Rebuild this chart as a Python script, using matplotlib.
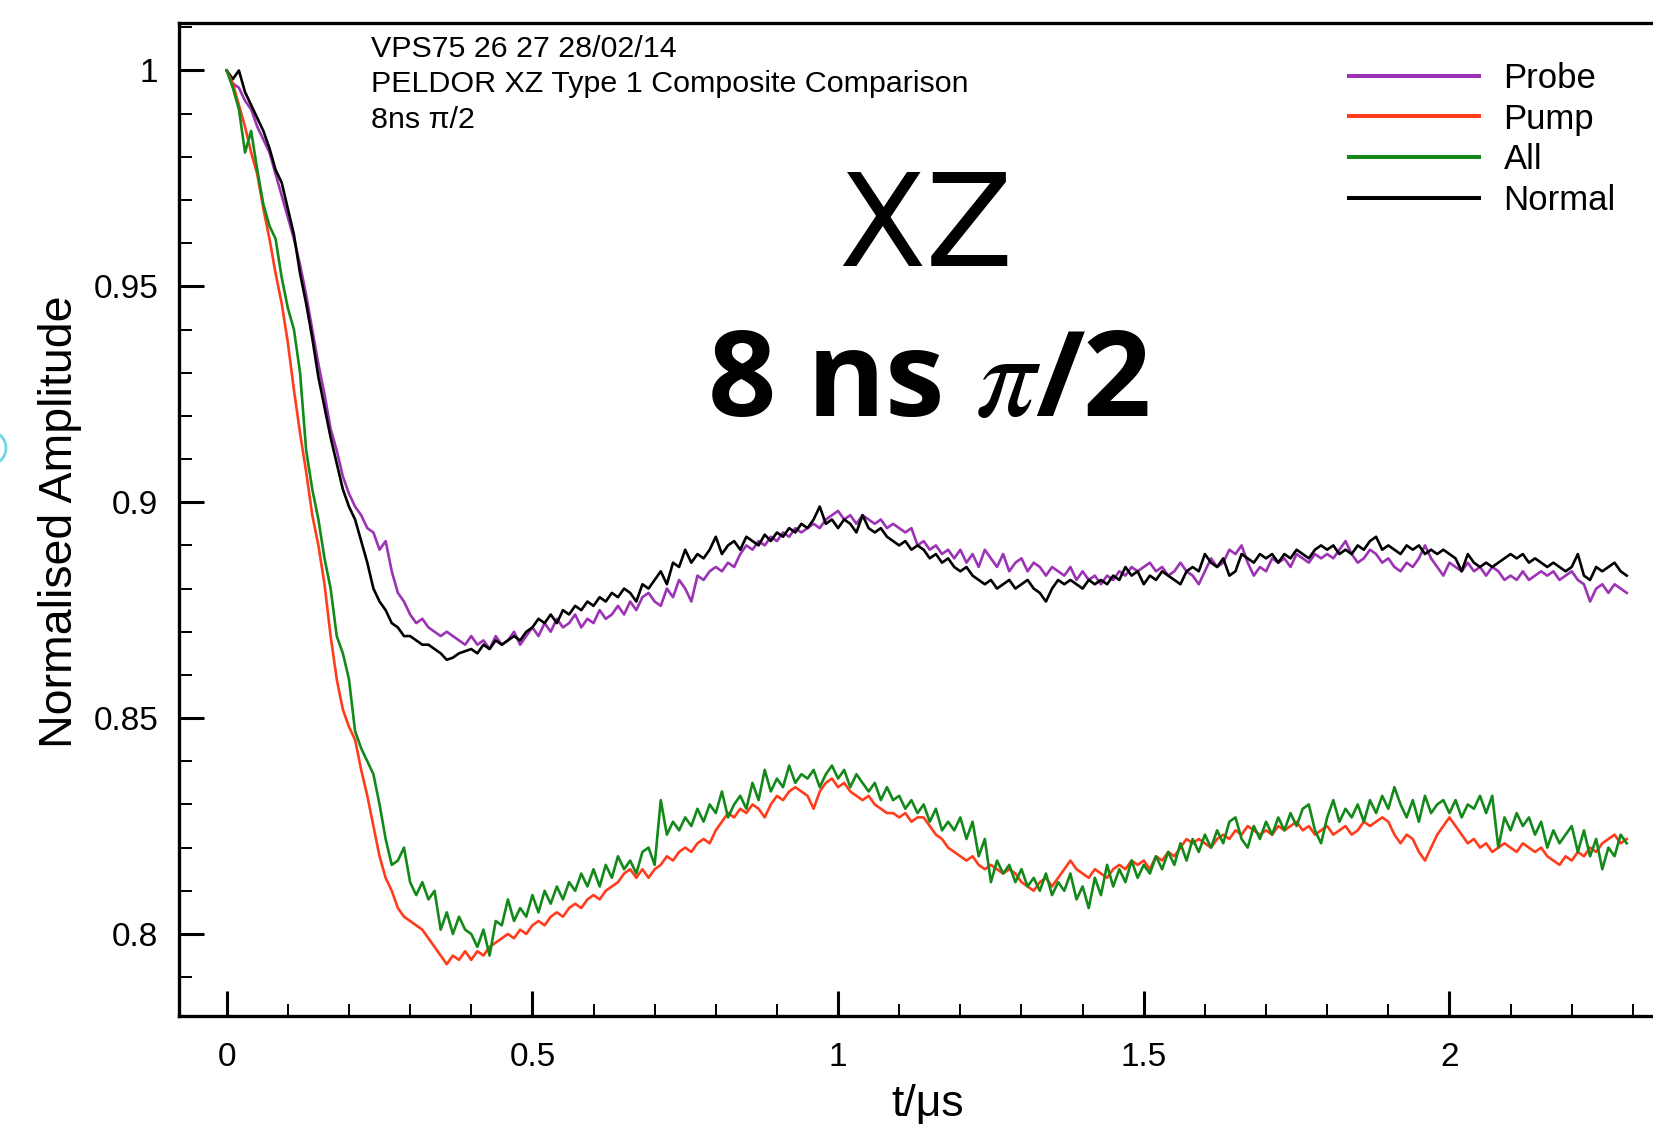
import numpy as np
import matplotlib
matplotlib.use("Agg")
import matplotlib.pyplot as plt
from matplotlib.patches import Ellipse

plt.rcParams['font.family'] = ['Liberation Sans', 'DejaVu Sans']

# time axis, 0.01 us sampling
t = np.round(np.arange(230) * 0.01, 2)

normal = [
    1.000, 0.998, 1.000, 0.995, 0.992, 0.989, 0.986, 0.982, 0.977, 0.974,
    0.968, 0.962, 0.953, 0.946, 0.938, 0.929, 0.922, 0.915, 0.909, 0.903,
    0.899, 0.896, 0.891, 0.886, 0.880, 0.877, 0.875, 0.872, 0.871, 0.869,
    0.869, 0.868, 0.867, 0.867, 0.866, 0.865, 0.8635, 0.864, 0.865, 0.8655,
    0.866, 0.865, 0.867, 0.866, 0.868, 0.867, 0.868, 0.869, 0.868, 0.870,
    0.871, 0.873, 0.872, 0.874, 0.872, 0.875, 0.874, 0.876, 0.875, 0.877,
    0.876, 0.878, 0.877, 0.879, 0.878, 0.880, 0.879, 0.877, 0.881, 0.880,
    0.882, 0.884, 0.881, 0.886, 0.885, 0.889, 0.886, 0.888, 0.887, 0.889,
    0.892, 0.888, 0.890, 0.891, 0.889, 0.892, 0.891, 0.890, 0.8925, 0.891,
    0.893, 0.892, 0.894, 0.893, 0.895, 0.894, 0.896, 0.899, 0.895, 0.896,
    0.894, 0.896, 0.895, 0.893, 0.897, 0.894, 0.893, 0.894, 0.892, 0.891,
    0.890, 0.891, 0.889, 0.890, 0.889, 0.887, 0.888, 0.886, 0.887, 0.885,
    0.884, 0.885, 0.883, 0.882, 0.881, 0.882, 0.880, 0.881, 0.882, 0.880,
    0.881, 0.882, 0.880, 0.879, 0.877, 0.880, 0.882, 0.881, 0.882, 0.881,
    0.880, 0.882, 0.881, 0.882, 0.881, 0.883, 0.882, 0.885, 0.883, 0.884,
    0.881, 0.883, 0.882, 0.884, 0.883, 0.882, 0.881, 0.884, 0.885, 0.884,
    0.888, 0.886, 0.885, 0.887, 0.883, 0.884, 0.888, 0.887, 0.886, 0.888,
    0.887, 0.888, 0.886, 0.888, 0.887, 0.889, 0.888, 0.887, 0.889, 0.890,
    0.889, 0.890, 0.888, 0.889, 0.888, 0.890, 0.889, 0.891, 0.892, 0.889,
    0.890, 0.889, 0.888, 0.890, 0.889, 0.890, 0.888, 0.889, 0.888, 0.889,
    0.888, 0.887, 0.884, 0.888, 0.886, 0.885, 0.886, 0.885, 0.886, 0.887,
    0.888, 0.887, 0.888, 0.886, 0.887, 0.886, 0.885, 0.886, 0.885, 0.884,
    0.885, 0.888, 0.883, 0.882, 0.885, 0.884, 0.885, 0.886, 0.884, 0.883,
]

probe = [
    1.000, 0.997, 0.996, 0.993, 0.991, 0.987, 0.984, 0.981, 0.976, 0.971,
    0.966, 0.961, 0.955, 0.948, 0.940, 0.932, 0.925, 0.917, 0.912, 0.906,
    0.902, 0.899, 0.897, 0.894, 0.893, 0.889, 0.891, 0.884, 0.879, 0.877,
    0.874, 0.872, 0.873, 0.871, 0.870, 0.869, 0.870, 0.869, 0.868, 0.867,
    0.869, 0.867, 0.868, 0.866, 0.869, 0.867, 0.868, 0.870, 0.867, 0.869,
    0.871, 0.869, 0.872, 0.870, 0.873, 0.871, 0.872, 0.874, 0.871, 0.873,
    0.872, 0.875, 0.873, 0.874, 0.876, 0.874, 0.877, 0.875, 0.878, 0.879,
    0.877, 0.876, 0.880, 0.878, 0.882, 0.880, 0.877, 0.883, 0.882, 0.884,
    0.885, 0.884, 0.886, 0.885, 0.888, 0.890, 0.889, 0.891, 0.890, 0.892,
    0.891, 0.893, 0.892, 0.894, 0.893, 0.894, 0.895, 0.894, 0.896, 0.897,
    0.898, 0.896, 0.897, 0.895, 0.897, 0.896, 0.895, 0.896, 0.894, 0.895,
    0.894, 0.893, 0.894, 0.890, 0.891, 0.889, 0.890, 0.888, 0.889, 0.887,
    0.889, 0.886, 0.888, 0.885, 0.889, 0.887, 0.885, 0.888, 0.884, 0.886,
    0.887, 0.884, 0.886, 0.885, 0.883, 0.885, 0.884, 0.883, 0.885, 0.882,
    0.884, 0.882, 0.883, 0.881, 0.883, 0.882, 0.884, 0.883, 0.885, 0.884,
    0.885, 0.886, 0.884, 0.885, 0.883, 0.884, 0.886, 0.884, 0.883, 0.881,
    0.884, 0.887, 0.885, 0.886, 0.889, 0.888, 0.890, 0.886, 0.883, 0.885,
    0.884, 0.887, 0.886, 0.887, 0.885, 0.888, 0.887, 0.886, 0.888, 0.887,
    0.888, 0.887, 0.889, 0.891, 0.888, 0.886, 0.887, 0.889, 0.888, 0.886,
    0.887, 0.885, 0.884, 0.886, 0.885, 0.887, 0.890, 0.887, 0.885, 0.883,
    0.886, 0.885, 0.884, 0.886, 0.884, 0.885, 0.883, 0.885, 0.884, 0.882,
    0.883, 0.882, 0.884, 0.882, 0.883, 0.884, 0.883, 0.884, 0.882, 0.883,
    0.884, 0.882, 0.881, 0.877, 0.880, 0.881, 0.879, 0.881, 0.880, 0.879,
]

pump = [
    1.000, 0.997, 0.992, 0.987, 0.981, 0.976, 0.968, 0.961, 0.953, 0.946,
    0.937, 0.926, 0.916, 0.907, 0.897, 0.890, 0.881, 0.869, 0.859, 0.852,
    0.848, 0.845, 0.838, 0.832, 0.825, 0.818, 0.813, 0.810, 0.806, 0.804,
    0.803, 0.802, 0.801, 0.799, 0.797, 0.795, 0.793, 0.795, 0.794, 0.796,
    0.794, 0.796, 0.795, 0.797, 0.798, 0.799, 0.800, 0.799, 0.801, 0.800,
    0.802, 0.803, 0.802, 0.804, 0.805, 0.804, 0.806, 0.807, 0.806, 0.808,
    0.809, 0.808, 0.810, 0.811, 0.812, 0.814, 0.815, 0.813, 0.815, 0.813,
    0.815, 0.816, 0.818, 0.817, 0.819, 0.820, 0.819, 0.821, 0.822, 0.821,
    0.824, 0.826, 0.828, 0.827, 0.829, 0.828, 0.830, 0.829, 0.827, 0.830,
    0.832, 0.831, 0.833, 0.834, 0.833, 0.832, 0.829, 0.833, 0.835, 0.836,
    0.834, 0.835, 0.833, 0.832, 0.831, 0.832, 0.830, 0.829, 0.828, 0.828,
    0.827, 0.828, 0.826, 0.827, 0.827, 0.825, 0.823, 0.822, 0.820, 0.819,
    0.818, 0.817, 0.818, 0.816, 0.815, 0.816, 0.815, 0.814, 0.815, 0.814,
    0.812, 0.811, 0.810, 0.812, 0.813, 0.811, 0.813, 0.815, 0.817, 0.815,
    0.814, 0.813, 0.815, 0.814, 0.813, 0.815, 0.816, 0.815, 0.817, 0.816,
    0.817, 0.815, 0.818, 0.817, 0.819, 0.818, 0.820, 0.822, 0.821, 0.822,
    0.821, 0.820, 0.822, 0.823, 0.822, 0.824, 0.823, 0.825, 0.824, 0.823,
    0.824, 0.823, 0.825, 0.824, 0.825, 0.826, 0.824, 0.825, 0.823, 0.824,
    0.825, 0.823, 0.824, 0.825, 0.823, 0.824, 0.826, 0.825, 0.826, 0.827,
    0.826, 0.823, 0.821, 0.823, 0.822, 0.819, 0.817, 0.820, 0.823, 0.825,
    0.827, 0.825, 0.823, 0.821, 0.822, 0.820, 0.821, 0.819, 0.820, 0.821,
    0.820, 0.819, 0.821, 0.820, 0.819, 0.820, 0.818, 0.817, 0.816, 0.818,
    0.817, 0.819, 0.818, 0.820, 0.819, 0.821, 0.822, 0.823, 0.821, 0.822,
]

all_ = [
    1.000, 0.996, 0.991, 0.981, 0.986, 0.977, 0.969, 0.964, 0.961, 0.952,
    0.945, 0.940, 0.930, 0.912, 0.903, 0.896, 0.887, 0.880, 0.869, 0.865,
    0.859, 0.847, 0.843, 0.840, 0.837, 0.830, 0.822, 0.816, 0.817, 0.820,
    0.812, 0.809, 0.812, 0.808, 0.810, 0.801, 0.805, 0.800, 0.804, 0.801,
    0.800, 0.797, 0.801, 0.795, 0.803, 0.802, 0.808, 0.803, 0.806, 0.804,
    0.809, 0.805, 0.810, 0.807, 0.811, 0.808, 0.812, 0.810, 0.814, 0.811,
    0.815, 0.811, 0.816, 0.813, 0.818, 0.815, 0.817, 0.814, 0.819, 0.820,
    0.816, 0.831, 0.823, 0.826, 0.824, 0.827, 0.825, 0.829, 0.826, 0.830,
    0.828, 0.833, 0.827, 0.830, 0.832, 0.829, 0.835, 0.831, 0.838, 0.833,
    0.836, 0.834, 0.839, 0.835, 0.837, 0.836, 0.838, 0.834, 0.837, 0.839,
    0.836, 0.838, 0.834, 0.837, 0.835, 0.833, 0.835, 0.831, 0.834, 0.831,
    0.832, 0.829, 0.831, 0.828, 0.830, 0.826, 0.829, 0.824, 0.826, 0.824,
    0.827, 0.822, 0.826, 0.818, 0.822, 0.812, 0.817, 0.814, 0.816, 0.812,
    0.815, 0.811, 0.813, 0.810, 0.814, 0.809, 0.812, 0.810, 0.814, 0.808,
    0.811, 0.806, 0.813, 0.809, 0.816, 0.811, 0.815, 0.812, 0.817, 0.813,
    0.816, 0.814, 0.818, 0.815, 0.819, 0.816, 0.821, 0.817, 0.822, 0.819,
    0.823, 0.820, 0.824, 0.821, 0.826, 0.827, 0.822, 0.820, 0.825, 0.822,
    0.826, 0.823, 0.827, 0.824, 0.828, 0.825, 0.829, 0.830, 0.824, 0.821,
    0.827, 0.831, 0.826, 0.829, 0.827, 0.830, 0.826, 0.831, 0.828, 0.832,
    0.829, 0.834, 0.830, 0.827, 0.831, 0.826, 0.832, 0.828, 0.830, 0.831,
    0.828, 0.831, 0.827, 0.830, 0.829, 0.832, 0.828, 0.832, 0.820, 0.827,
    0.824, 0.828, 0.825, 0.827, 0.823, 0.826, 0.820, 0.824, 0.821, 0.823,
    0.825, 0.819, 0.824, 0.818, 0.822, 0.815, 0.820, 0.818, 0.823, 0.821,
]

series = [("Probe", probe, "#9c32b4"),
          ("Pump", pump, "#ff3c1c"),
          ("All", all_, "#13891a"),
          ("Normal", normal, "#000000")]

W, H = 1653, 1124
fig = plt.figure(figsize=(W / 100, H / 100), dpi=100)
ax = fig.add_axes([179 / W, 1 - 1016 / H, 1515 / W, 993 / H])

# draw order: probe under normal, pump under all
for name, vals, col in [series[0], series[3], series[1], series[2]]:
    ax.plot(t, vals, color=col, lw=1.9, label=name)

ax.set_xlim(-0.078, 2.40)
ax.set_ylim(0.781, 1.011)

ax.set_xticks([0, 0.5, 1, 1.5, 2], ["0", "0.5", "1", "1.5", "2"])
ax.set_xticks(np.round(np.arange(0, 2.41, 0.1), 2), minor=True)
ax.set_yticks([0.8, 0.85, 0.9, 0.95, 1.0], ["0.8", "0.85", "0.9", "0.95", "1"])
ax.set_yticks(np.round(np.arange(0.79, 1.011, 0.01), 2), minor=True)

ax.tick_params(which='both', direction='in', top=False, right=False)
ax.tick_params(axis='x', which='major', length=18, width=2.2, pad=19, labelsize=24)
ax.tick_params(axis='x', which='minor', length=9, width=1.4)
ax.tick_params(axis='y', which='major', length=18, width=2.2, pad=15, labelsize=24)
ax.tick_params(axis='y', which='minor', length=9, width=1.4)
for s in ax.spines.values():
    s.set_linewidth(2.4)

ax.set_xlabel("t/\u03bcs", fontsize=32)
ax.xaxis.set_label_coords(928 / W, 1 - 1084 / H, transform=fig.transFigure)
ax.set_ylabel("Normalised Amplitude", fontsize=33.5)
ax.yaxis.set_label_coords(82 / W, 1 - 522 / H, transform=fig.transFigure)

handles, labels = ax.get_legend_handles_labels()
order = [labels.index(n) for n in ["Probe", "Pump", "All", "Normal"]]
leg = fig.legend([handles[i] for i in order], [labels[i] for i in order],
                 loc='upper left', bbox_to_anchor=(1349 / W, 1 - 62 / H),
                 frameon=False, fontsize=25, borderpad=0, borderaxespad=0,
                 handlelength=3.75, handletextpad=0.7, labelspacing=0.22)
for ln in leg.get_lines():
    ln.set_linewidth(2.9)

fig.text(371 / W, 1 - 35 / H,
         "VPS75 26 27 28/02/14\nPELDOR XZ Type 1 Composite Comparison\n8ns \u03c0/2",
         fontsize=21.9, ha='left', va='top', linespacing=1.34)

fig.text(926 / W, 1 - 266 / H, "XZ", family='DejaVu Sans', fontsize=92,
         ha='center', va='baseline')
fig.text(928 / W, 1 - 416 / H, r"8 ns $\pi$/2", family='Open Sans',
         fontweight='bold', fontsize=86, ha='center', va='baseline',
         math_fontfamily='stix')

fig.add_artist(Ellipse((-11 / W, 1 - 448 / H), 34 / W, 34 / H,
                       transform=fig.transFigure, fill=False,
                       ec='#6fd8e2', lw=2))

fig.savefig("out.png", dpi=100)
